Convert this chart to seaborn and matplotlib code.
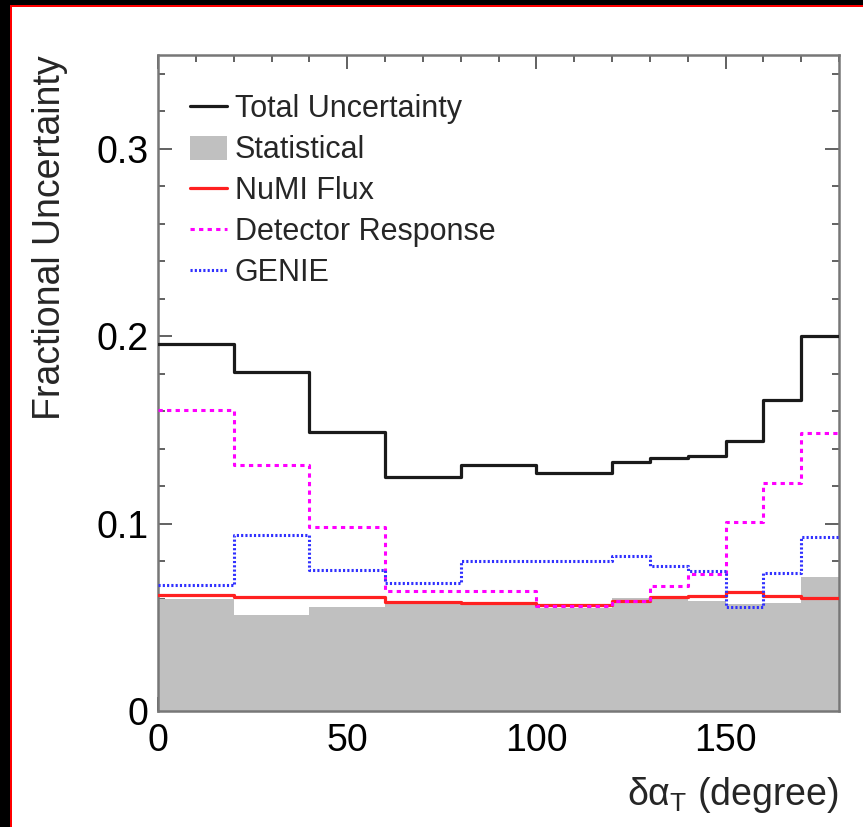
import numpy as np
import pandas as pd
import matplotlib
matplotlib.use("Agg")
import matplotlib.pyplot as plt
from matplotlib.patches import Rectangle, Patch
from matplotlib.lines import Line2D
import seaborn as sns

# ---- data ----
bin_edges = [0, 20, 40, 60, 80, 100, 120, 130, 140, 150, 160, 170, 180]
total     = [0.196, 0.181, 0.149, 0.125, 0.131, 0.127, 0.133, 0.135, 0.136, 0.144, 0.166, 0.200]
stat      = [0.0597, 0.0513, 0.0553, 0.0570, 0.0565, 0.0550, 0.0605, 0.0600, 0.0588, 0.0570, 0.0574, 0.0713]
flux      = [0.0617, 0.0606, 0.0610, 0.0579, 0.0574, 0.0567, 0.0585, 0.0610, 0.0613, 0.0633, 0.0615, 0.0603]
detector  = [0.1608, 0.1310, 0.0984, 0.0638, 0.0640, 0.0561, 0.0588, 0.0668, 0.0731, 0.1007, 0.1218, 0.1483]
genie     = [0.0672, 0.0941, 0.0752, 0.0681, 0.0798, 0.0800, 0.0829, 0.0772, 0.0749, 0.0553, 0.0736, 0.0927]
legend_labels = ["Total Uncertainty", "Statistical", "NuMI Flux", "Detector Response", "GENIE"]
x_ticks = [0, 50, 100, 150]
y_ticks = [0, 0.1, 0.2, 0.3]

sns.set_theme(style="white")
plt.rcParams['font.family'] = ['Liberation Sans', 'DejaVu Sans']
plt.rcParams['mathtext.fontset'] = 'custom'
plt.rcParams['mathtext.rm'] = 'Liberation Sans'
plt.rcParams['mathtext.it'] = 'Liberation Sans'

centers = [(a + b) / 2 for a, b in zip(bin_edges[:-1], bin_edges[1:])]
df = pd.DataFrame({"x": centers, "total": total, "stat": stat, "flux": flux,
                   "detector": detector, "genie": genie})

fig = plt.figure(figsize=(8.63, 8.27), dpi=100, facecolor="white")
W, H = 863, 827
ax = fig.add_axes([158 / W, 1 - 711 / H, (839 - 158) / W, (711 - 55) / H])

# statistical fill
sns.histplot(data=df, x="x", weights="stat", bins=bin_edges, element="step",
             fill=True, color="#c0c0c0", alpha=1.0, linewidth=0, ax=ax, zorder=1)
# lines
sns.histplot(data=df, x="x", weights="total", bins=bin_edges, element="step",
             fill=False, color="#1a1a1a", linewidth=2.3, ax=ax, zorder=3)
sns.histplot(data=df, x="x", weights="flux", bins=bin_edges, element="step",
             fill=False, color="#ff2020", linewidth=2.3, ax=ax, zorder=3)
sns.histplot(data=df, x="x", weights="detector", bins=bin_edges, element="step",
             fill=False, color="#ff00ff", linewidth=2.2, linestyle=(0, (1.4, 1.4)),
             ax=ax, zorder=4)
sns.histplot(data=df, x="x", weights="genie", bins=bin_edges, element="step",
             fill=False, color="#3030ff", linewidth=2.2, linestyle=(0, (0.7, 0.7)),
             ax=ax, zorder=4)

ax.set_xlim(0, 180)
ax.set_ylim(0, 0.35)
ax.set_xticks(x_ticks)
ax.set_xticklabels([str(t) for t in x_ticks])
ax.set_yticks(y_ticks)
ax.set_yticklabels(["0", "0.1", "0.2", "0.3"])
ax.set_xticks(np.arange(0, 181, 10), minor=True)
ax.set_yticks(np.arange(0, 0.351, 0.02), minor=True)
ax.tick_params(which="both", direction="in", top=True, right=True,
               bottom=True, left=True, colors="#555555", labelcolor="black")
ax.tick_params(which="major", length=10, width=1.3, labelsize=27)
ax.tick_params(which="minor", length=5, width=1.3)
ax.tick_params(axis="y", which="major", pad=7)
ax.tick_params(axis="x", which="major", pad=8.5)
for s in ax.spines.values():
    s.set_color("#777777")
    s.set_linewidth(1.8)
    s.set_visible(True)
ax.grid(False)

ax.set_ylabel("Fractional Uncertainty", fontsize=27, loc="top", labelpad=20)
ax.set_xlabel("δα$_{\\rm T}$ (degree)", fontsize=27, loc="right", labelpad=12)

handles = [
    Line2D([], [], color="#1a1a1a", linewidth=2.3),
    Patch(facecolor="#c0c0c0", edgecolor="none"),
    Line2D([], [], color="#ff2020", linewidth=2.3),
    Line2D([], [], color="#ff00ff", linewidth=2.2, linestyle=(0, (1.4, 1.4))),
    Line2D([], [], color="#3030ff", linewidth=2.2, linestyle=(0, (0.7, 0.7))),
]
ax.legend(handles, legend_labels, loc="upper left", bbox_to_anchor=(0.047, 0.94),
          frameon=False, fontsize=22, handlelength=1.2, handleheight=0.85,
          handletextpad=0.27, labelspacing=0.36, borderpad=0, borderaxespad=0)

# frame decoration: black strips with red border on left and top
fig.patches.append(Rectangle((0, 0), 10 / W, 1, transform=fig.transFigure,
                             facecolor="black", edgecolor="none", zorder=0))
fig.patches.append(Rectangle((0, 1 - 5 / H), 1, 5 / H, transform=fig.transFigure,
                             facecolor="black", edgecolor="none", zorder=0))
fig.patches.append(Rectangle((10 / W, 0), 2 / W, 1 - 5 / H, transform=fig.transFigure,
                             facecolor="red", edgecolor="none", zorder=1))
fig.patches.append(Rectangle((10 / W, 1 - 7 / H), 1 - 10 / W, 2 / H, transform=fig.transFigure,
                             facecolor="red", edgecolor="none", zorder=1))

fig.savefig("out.png", dpi=100, facecolor="white")
